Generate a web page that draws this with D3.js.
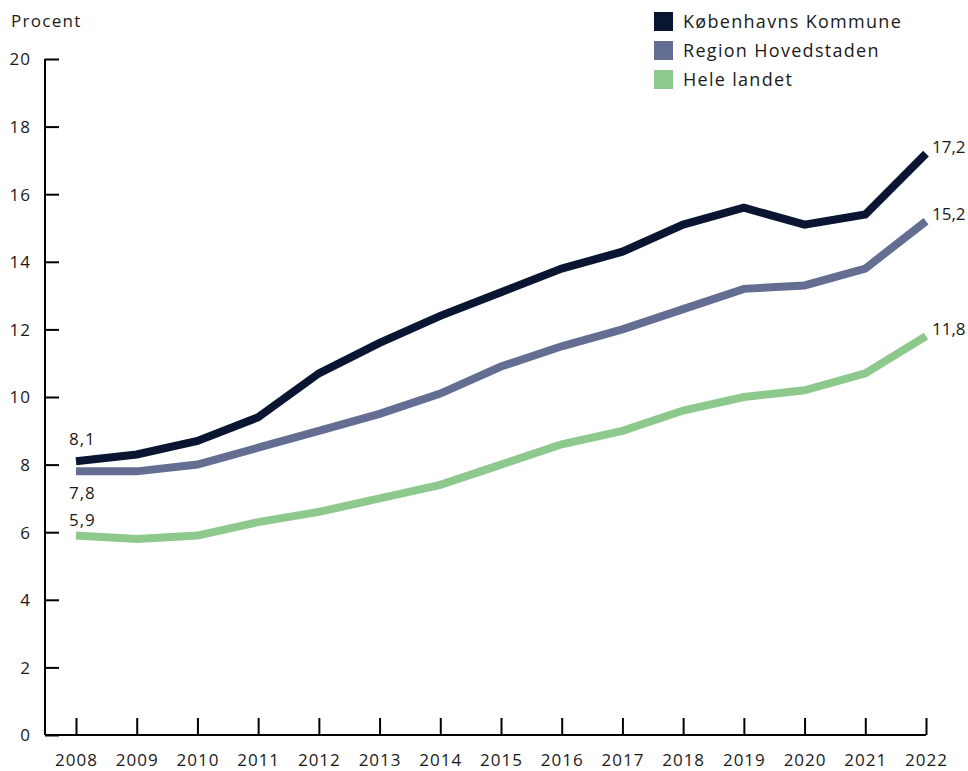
<!DOCTYPE html>
<html lang="da">
<head>
    <meta charset="UTF-8">
    <title>Procent</title>
    <style>
        body { margin: 0; background: #fff; }
        text { font-family: "Open Sans", sans-serif; fill: #1a1a1a; letter-spacing: 1px; }
        .tick text { font-size: 17px; }
        .axis path, .axis line { stroke: #000; stroke-width: 2; }
    </style>
</head>
<body>
    <svg width="968" height="771"></svg>

    <script src="https://d3js.org/d3.v7.min.js"></script>
    <script>

        // Data
        const years = [2008, 2009, 2010, 2011, 2012, 2013, 2014, 2015, 2016, 2017, 2018, 2019, 2020, 2021, 2022];

        const kbhValues    = [8.1, 8.3, 8.7, 9.4, 10.7, 11.6, 12.4, 13.1, 13.8, 14.3, 15.1, 15.6, 15.1, 15.4, 17.2];
        const regionValues = [7.8, 7.8, 8.0, 8.5, 9.0, 9.5, 10.1, 10.9, 11.5, 12.0, 12.6, 13.2, 13.3, 13.8, 15.2];
        const landValues   = [5.9, 5.8, 5.9, 6.3, 6.6, 7.0, 7.4, 8.0, 8.6, 9.0, 9.6, 10.0, 10.2, 10.7, 11.8];

        const seriesNames = ['Københavns Kommune', 'Region Hovedstaden', 'Hele landet'];
        const seriesColors = ['#0a1531', '#636e92', '#8dc98d'];
        const yTicks = [0, 2, 4, 6, 8, 10, 12, 14, 16, 18, 20];

        const series = [kbhValues, regionValues, landValues].map(function (vals, i) {
            return {
                name: seriesNames[i],
                color: seriesColors[i],
                values: vals.map(function (v, j) { return { year: years[j], value: v }; })
            };
        });

        const svg = d3.select('svg');

        const xScale = d3.scaleLinear()
            .domain([2008, 2022])
            .range([76, 926]);

        const yScale = d3.scaleLinear()
            .domain([0, 20])
            .range([735, 59]);

        // y-axis: line at x=45, ticks pointing right
        const yAxisG = svg.append('g')
            .attr('class', 'axis')
            .attr('transform', 'translate(45 0)')
            .call(d3.axisRight(yScale).tickValues(yTicks).tickSize(14).tickSizeOuter(0).tickFormat(d3.format('d')));

        yAxisG.select('.domain').attr('d', 'M0,' + yScale(20) + 'V' + yScale(0));

        yAxisG.selectAll('.tick text')
            .attr('x', -14)
            .attr('dy', '0.35em')
            .style('text-anchor', 'end');

        // x-axis: ticks pointing up, labels below
        const xAxisG = svg.append('g')
            .attr('class', 'axis')
            .attr('transform', 'translate(0 ' + yScale(0) + ')')
            .call(d3.axisTop(xScale).tickValues(years).tickSize(17).tickSizeOuter(0).tickFormat(d3.format('d')));

        xAxisG.select('.domain').attr('d', 'M45,0H' + xScale(2022));

        xAxisG.selectAll('.tick text')
            .attr('y', 31)
            .style('text-anchor', 'middle');

        svg.selectAll('.axis text').attr('fill', '#1a1a1a');

        // y-axis title
        svg.append('text')
            .attr('x', 11)
            .attr('y', 27)
            .style('font-size', '17px')
            .style('letter-spacing', '1.3px')
            .text('Procent');

        const line = d3.line()
            .x(function (d) { return xScale(d.year); })
            .y(function (d) { return yScale(d.value); });

        svg.append('g')
            .selectAll('path')
            .data(series.slice().reverse())
            .enter()
            .append('path')
            .attr('d', function (d) { return line(d.values); })
            .attr('fill', 'none')
            .attr('stroke', function (d) { return d.color; })
            .attr('stroke-width', 8)
            .attr('stroke-linejoin', 'miter');

        const fmt = function (v) { return d3.format('.1f')(v).replace('.', ','); };

        // start labels (above, below, above) and end labels
        const startOffsets = [-16, 28, -10];
        series.forEach(function (s, i) {
            const first = s.values[0];
            svg.append('text')
                .attr('x', xScale(first.year) - 7)
                .attr('y', yScale(first.value) + startOffsets[i])
                .style('font-size', '17px')
                .text(fmt(first.value));

            const last = s.values[s.values.length - 1];
            svg.append('text')
                .attr('x', xScale(last.year) + 6)
                .attr('y', yScale(last.value) - 1)
                .style('font-size', '17px')
                .style('letter-spacing', '0px')
                .text(fmt(last.value));
        });

        // legend
        const legend = svg.append('g')
            .attr('transform', 'translate(654 12)');

        const item = legend.selectAll('g')
            .data(series)
            .enter()
            .append('g')
            .attr('transform', function (d, i) { return 'translate(0 ' + (i * 29) + ')'; });

        item.append('rect')
            .attr('width', 19)
            .attr('height', 19)
            .attr('fill', function (d) { return d.color; });

        item.append('text')
            .attr('x', 29)
            .attr('y', 16)
            .style('font-size', '18px')
            .style('letter-spacing', '1.3px')
            .text(function (d) { return d.name; });

    </script>
</body>
</html>
